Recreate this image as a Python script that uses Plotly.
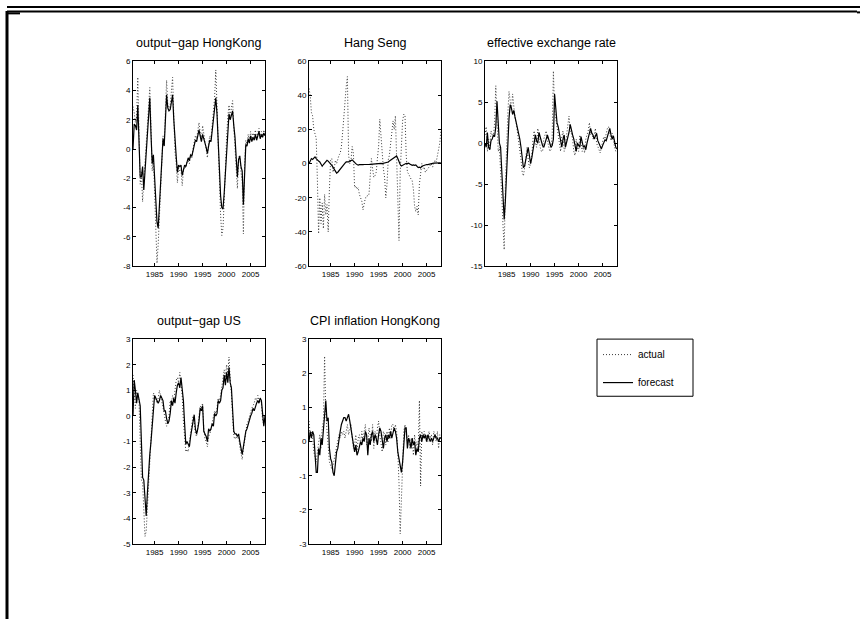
import plotly.graph_objects as go

# ---------------- data (quarterly, 1980Q3 .. 2008Q1) ----------------
START_YEAR = 1980.5
N_OBS = 111
dates = [START_YEAR + 0.25 * k for k in range(N_OBS)]

x_tick_vals = [1985, 1990, 1995, 2000, 2005]
x_tick_text = ["1985", "1990", "1995", "2000", "2005"]

titles = ["output\u2212gap HongKong", "Hang Seng", "effective exchange rate",
          "output\u2212gap US", "CPI inflation HongKong"]

# output-gap HongKong
gap_hk_forecast = [
    0.0, 1.7,
    1.6, 1.3, 3.0, 1.0,   -1.9, -1.9, -1.2, -2.8,   -1.5, -0.3, 1.3, 2.0,
    3.5, 1.0, -1.0, -0.4,  -2.0, -3.8, -5.0, -5.4,  -3.8, -2.0, -0.5, 0.7,
    0.2, 1.8, 3.7, 2.8,    2.6, 2.7, 3.3, 3.7,      2.0, 0.2, -0.5, -1.6,
    -1.1, -1.2, -1.1, -1.8, -1.3, -1.1, -1.2, -0.8, -0.6, -0.8, -0.4, -0.5,
    -0.1, 0.3, 0.6, 0.5,   0.9, 1.3, 0.9, 0.5,      1.0, 0.6, 0.4, 0.1,
    -0.3, 0.2, 0.6, 0.5,   1.2, 1.7, 2.5, 3.5,      2.4, 0.2, -1.8, -3.2,
    -4.0, -4.1, -3.0, -1.5, 0.2, 1.5, 2.4, 2.0,     2.3, 2.6, 1.6, 0.8,
    -0.6, -1.9, -0.7, -0.5, -1.2, -1.5, -3.8, -1.2, 0.3, 0.2, 0.7, 0.4,
    0.9, 0.5, 0.8, 0.6,    1.0, 0.6, 0.9, 1.2,      0.7, 1.0, 0.8, 1.1,
    0.9,
]
gap_hk_actual = [
    2.9, 2.5,
    1.8, 2.2, 4.9, 0.5,    -2.4, -1.6, -3.6, -2.2,  -0.8, 0.8, 1.8, 2.8,
    4.2, 1.5, -1.5, -0.6,  -3.0, -6.0, -7.8, -6.5,  -4.5, -2.0, 0.0, 0.9,
    0.3, 2.5, 4.7, 3.0,    2.8, 3.0, 4.0, 4.9,      2.2, -0.2, -1.0, -2.3,
    -1.3, -1.5, -1.4, -2.5, -1.5, -1.2, -1.3, -0.9, -0.8, -1.0, -0.3, -0.6,
    0.0, 0.5, 0.9, 0.7,    1.2, 1.8, 1.1, 0.6,      1.6, 0.8, 0.5, 0.0,
    -0.6, 0.4, 0.9, 0.7,   1.6, 2.3, 3.5, 5.4,      3.0, -0.5, -2.8, -4.5,
    -5.9, -5.4, -3.5, -1.0, 0.8, 2.2, 3.0, 2.3,     2.8, 3.3, 1.5, 0.2,
    -1.3, -2.7, -0.6, -0.4, -1.6, -2.2, -5.8, -1.0, 0.6, 0.3, 1.0, 0.5,
    1.2, 0.6, 1.1, 0.8,    1.3, 0.7, 1.1, 1.4,      0.8, 1.2, 0.9, 1.3,
    1.0,
]

# Hang Seng
hang_seng_forecast = [
    0.0, 1.5, 3.0, 2.5, 3.5, 4.0, 3.0, 2.0, 1.5, 1.0,
    0.0, -1.5, -0.5, 0.5, 1.5, 2.0, 1.5, 0.8, 0.0, -1.0,
    -2.0, -3.0, -4.5, -5.5, -5.0, -4.0, -3.0, -2.0, -1.5, -0.5,
    0.3, 1.0, 0.8, 1.0, 1.5, 2.0, 2.2, 1.5, 0.5, 0.0,
    -0.5, -0.8, -0.6, -0.7, -0.8, -0.6, -0.5, -0.6, -0.5, -0.4,
    -0.5, -0.4, -0.3, -0.3, -0.3, -0.2, -0.2, 0.0, 0.1, 0.0,
    0.2, 0.0, 0.2, 0.3, 0.5, 0.6, 1.0, 1.5, 2.0, 2.5,
    3.0, 3.5, 4.0, 4.5, 3.0, 1.0, -0.5, -1.4, -1.0, -0.5,
    0.0, 0.2, 0.0, 0.3, -0.2, -0.8, -1.0, -0.7, -1.0, -0.8,
    -1.5, -2.3, -2.0, -2.5, -1.5, -1.2, -1.0, -0.8, -0.5, -0.6,
    -0.3, -0.2, 0.0, 0.2, 0.3, 0.4, 0.5, 0.4, 0.6, 0.5,
    0.4,
]
hang_seng_actual = [
    44, 40, 30, 28, 20, 17, 15, -10, -41, -20,
    -35, -23, -38, -18, -30, -24, -40, -15, 2, 3,
    -5, -3, 2, 0, 3, 5, 6, 10, 18, 28,
    40, 45, 51, 5, 0, 2, 10, 6, -14, -13,
    -15, -14, -18, -20, -22, -27, -22, -20, -20, -18,
    -18, -10, 3, -3, -8, -7, -5, 3, 10, 26,
    15, 2, -3, -8, -20, -12, 2, 5, 10, 18,
    25, 20, 28, 8, -20, -45, -5, 10, 25, 29,
    28, 5, -5, -6, -8, -9, -10, -15, -25, -28,
    -25, -30, -12, -5, 0, -3, -2, -5, -4, -3,
    -2, -1, 0, -2, 0, 2, 1, 5, 8, 12,
    20,
]

# effective exchange rate
eer_forecast = [
    0.0, -0.5, 1.3, -0.5, -0.8, 0.3, 0.5, 1.0, 0.8, 2.0,
    5.1, 2.0, 0.0, -0.5, -3.0, -6.0, -9.3, -7.0, -3.5, 0.5,
    3.0, 4.7, 4.3, 3.5, 4.0, 3.2, 2.5, 2.0, 1.5, 0.5,
    -0.5, -1.5, -3.0, -2.8, -2.0, -1.0, -0.5, -1.5, -2.5, -1.8,
    -1.0, 0.0, 1.0, 0.3, 0.0, 1.3, 0.8, 0.0, -0.3, -0.5,
    0.2, 0.5, 1.0, 0.5, 0.0, -0.5, -0.3, 0.5, 6.0, 3.5,
    2.5, 2.0, 1.0, 0.0, -0.5, 0.5, 1.0, -0.5, 0.0, 0.5,
    1.3, 2.3, 1.5, 1.0, 0.5, -0.5, -1.0, 0.0, -0.3, -0.5,
    0.8, 0.2, -0.5, -0.3, -0.8, 0.0, 0.5, 1.0, 1.8, 1.2,
    1.0, 0.5, 0.8, 1.2, 0.3, 0.0, -0.5, -0.7, -0.3, 0.0,
    0.4, 0.3, 0.8, 1.2, 1.8, 1.0, 0.5, 0.9, 0.3, -0.5,
    -0.7,
]
eer_actual = [
    1.0, 2.0, -1.0, 0.5, -0.8, 1.5, 1.0, 0.8, 2.5, 7.0,
    3.0, -1.0, -0.5, -3.0, -6.5, -10.0, -13.0, -5.0, 0.5, 3.5,
    6.3, 5.0, 4.0, 6.0, 4.5, 3.0, 2.5, 1.5, 0.5, -0.5,
    -2.0, -3.5, -4.0, -3.0, -1.5, -0.5, -2.0, -3.0, -2.5, -1.5,
    0.5, 1.5, 0.0, -0.5, 1.8, 0.5, -0.5, -1.0, -1.0, 0.5,
    1.0, 1.5, 0.3, -0.5, -1.0, -0.8, 1.0, 8.8, 4.0, 3.0,
    2.0, 1.0, -0.5, -1.0, 0.8, 1.5, -1.0, -0.5, 1.0, 2.0,
    3.3, 1.5, 1.2, 0.5, -1.0, -1.5, 0.5, -0.5, -1.0, 1.0,
    0.0, -1.0, -0.5, -1.2, 0.5, 1.0, 1.5, 2.5, 1.0, 1.5,
    0.5, 1.0, 1.8, 0.0, -0.5, -1.0, -1.2, -0.5, 0.2, 0.8,
    0.5, 1.2, 1.8, 2.0, 1.0, 0.3, 1.2, 0.0, -0.5, -1.0,
    -0.8,
]

# output-gap US
gap_us_forecast = [
    0.0, 1.4, 1.0, 0.5, 0.9, 0.6, 0.4, -1.0, -2.4, -2.5,
    -3.2, -3.9, -3.0, -2.0, -1.5, -1.0, -0.3, 0.4, 0.8, 0.7,
    0.6, 0.5, 0.6, 0.8, 0.7, 0.6, 0.2, 0.2, -0.1, -0.3,
    -0.2, 0.1, 0.6, 0.4, 0.7, 0.5, 0.9, 1.2, 1.3, 1.1,
    1.5, 1.0, 0.6, -0.3, -1.1, -1.0, -1.1, -1.2, -0.8, -0.5,
    -0.2, 0.05, -0.5, -0.7, -0.5, -0.2, 0.3, 0.2, 0.4, -0.6,
    -0.7, -0.8, -1.0, -0.5, -0.6, -0.5, -0.3, -0.4, 0.1, 0.0,
    0.1, 0.6, 0.5, 0.6, 1.0, 1.1, 1.6, 1.2, 1.7, 1.3,
    1.9, 1.3, 1.1, 0.3, -0.6, -0.7, -0.7, -0.8, -0.7, -1.0,
    -1.3, -1.5, -1.2, -0.9, -0.6, -0.5, -0.3, -0.2, 0.0, 0.1,
    0.3, 0.2, 0.4, 0.5, 0.6, 0.5, 0.7, 0.6, 0.1, -0.4,
    0.0,
]
gap_us_actual = [
    1.6, 0.8, 0.3, 1.0, 0.8, 0.6, -1.0, -2.5, -2.6, -3.5,
    -4.7, -4.5, -3.5, -2.5, -1.5, -0.5, 0.2, 0.9, 0.8, 0.6,
    0.5, 0.7, 1.0, 0.8, 0.6, 0.3, 0.1, -0.2, -0.4, -0.2,
    0.0, 0.6, 0.5, 0.8, 0.6, 1.0, 1.4, 1.5, 1.3, 1.7,
    1.2, 0.8, -0.2, -1.0, -1.4, -1.3, -1.4, -1.0, -0.7, -0.3,
    0.0, -0.2, -0.7, -0.8, -0.4, 0.0, 0.4, 0.3, 0.5, -0.5,
    -0.9, -1.0, -1.2, -0.8, -0.7, -0.5, -0.3, -0.1, 0.2, 0.1,
    0.3, 0.7, 0.6, 0.8, 1.2, 1.4, 1.8, 1.5, 2.0, 1.6,
    2.3, 1.4, 0.9, 0.0, -0.8, -0.9, -0.8, -0.9, -0.8, -1.2,
    -1.5, -1.7, -1.3, -0.9, -0.5, -0.3, -0.2, 0.0, 0.2, 0.3,
    0.4, 0.5, 0.7, 0.6, 0.8, 0.6, 0.7, 0.5, -0.2, -0.3,
    0.1,
]

# CPI inflation HongKong
cpi_hk_forecast = [
    0.0, 0.3, 0.1, 0.3, 0.2, -0.4, -0.9, -0.9, -0.2, -0.4,
    0.1, -0.1, 0.3, 0.6, 1.2, 0.6, 0.7, -0.2, -0.5, -0.6,
    -0.9, -1.0, -0.7, -0.3, -0.2, 0.1, 0.3, 0.5, 0.6, 0.7,
    0.7, 0.6, 0.7, 0.8, 0.6, 0.4, 0.1, 0.0, -0.3, -0.1,
    -0.4, -0.3, -0.1, 0.0, -0.1, 0.1, 0.0, 0.3, 0.2, -0.4,
    0.1, -0.1, 0.2, 0.3, 0.0, 0.2, 0.1, -0.1, 0.2, 0.4,
    0.3, 0.1, -0.2, 0.1, 0.2, 0.0, 0.2, 0.1, 0.3, 0.1,
    0.3, 0.4, 0.3, 0.1, -0.3, -0.5, -0.7, -0.9, -0.6, 0.1,
    0.4, 0.4, -0.2, 0.1, 0.0, -0.2, 0.1, -0.1, 0.0, -0.4,
    -0.2, -0.3, 0.1, 0.2, 0.0, 0.2, 0.1, 0.2, 0.0, 0.2,
    0.1, 0.0, 0.1, 0.0, 0.1, 0.2, 0.1, 0.1, 0.0, 0.1,
    0.1,
]
cpi_hk_actual = [
    0.6, 0.2, 0.3, 0.1, -0.3, -0.5, -0.6, -0.3, -0.1, 0.2,
    -0.2, 0.4, 0.6, 2.5, 0.8, 0.3, -0.4, -0.6, -0.7, -0.8,
    -0.7, -0.5, -0.3, -0.1, 0.0, 0.2, 0.1, 0.3, 0.2, 0.3,
    0.1, 0.3, 0.5, 0.2, 0.4, 0.5, 0.1, -0.2, -0.1, 0.2,
    -0.3, 0.1, 0.2, -0.1, 0.3, 0.0, 0.3, 0.5, -0.1, 0.0,
    0.4, 0.2, 0.0, 0.5, -0.2, 0.3, 0.0, 0.4, 0.6, 0.2,
    -0.1, -0.3, 0.3, 0.2, -0.1, 0.3, 0.0, 0.4, 0.1, 0.5,
    0.5, 0.3, 0.5, 0.3, -0.3, -1.2, -2.7, -1.8, -0.6, 0.3,
    0.5, 0.3, 0.0, 0.2, -0.2, 0.1, 0.0, -0.4, 0.2, -0.2,
    0.0, -0.3, 1.2, -1.3, 0.3, 0.1, 0.3, 0.1, 0.2, 0.0,
    0.3, 0.1, 0.2, -0.1, 0.3, 0.2, 0.0, 0.3, -0.2, 0.2,
    0.1,
]

y_ranges = [(-8, 6), (-60, 60), (-15, 10), (-5, 3), (-3, 3)]
y_tick_vals = [
    [-8, -6, -4, -2, 0, 2, 4, 6],
    [-60, -40, -20, 0, 20, 40, 60],
    [-15, -10, -5, 0, 5, 10],
    [-5, -4, -3, -2, -1, 0, 1, 2, 3],
    [-3, -2, -1, 0, 1, 2, 3],
]
actual_series = [gap_hk_actual, hang_seng_actual, eer_actual, gap_us_actual, cpi_hk_actual]
forecast_series = [gap_hk_forecast, hang_seng_forecast, eer_forecast, gap_us_forecast, cpi_hk_forecast]
legend_labels = ["actual", "forecast"]

# ---------------- layout geometry (pixels) ----------------
W, H = 860, 624
col_px = [(133, 265), (309, 441), (485, 617)]
row_px = [(58, 266), (340, 548)]
panel_pos = [(0, 0), (0, 1), (0, 2), (1, 0), (1, 1)]
legend_box = (597, 693, 340, 398)

FONT = "Liberation Sans, Arial, Helvetica, sans-serif"

fig = go.Figure()
layout = dict(
    width=W, height=H, margin=dict(l=0, r=0, t=0, b=0),
    paper_bgcolor="white", plot_bgcolor="white",
    font=dict(family=FONT, color="black", size=8),
    showlegend=True, hovermode=False,
    legend=dict(x=(legend_box[0] + 1) / W, y=1 - (legend_box[2] + 1) / H,
                xanchor="left", yanchor="top",
                bgcolor="rgba(0,0,0,0)", borderwidth=0,
                font=dict(size=10, family=FONT), tracegroupgap=9, itemwidth=30),
)
annotations = []
for k, (r, c) in enumerate(panel_pos):
    n = k + 1
    xa = "xaxis" if n == 1 else f"xaxis{n}"
    ya = "yaxis" if n == 1 else f"yaxis{n}"
    xr = "x" if n == 1 else f"x{n}"
    yr = "y" if n == 1 else f"y{n}"
    x0, x1 = col_px[c]
    y0, y1 = row_px[r]
    layout[xa] = dict(domain=[x0 / W, x1 / W], anchor=yr, range=[dates[0], dates[-1]],
                      tickvals=x_tick_vals, ticktext=x_tick_text, ticks="inside", ticklen=3,
                      tickcolor="black", showline=True, linecolor="black", linewidth=1,
                      mirror="ticks", showgrid=False, zeroline=False,
                      tickfont=dict(size=8, family=FONT))
    yv = y_tick_vals[k]
    layout[ya] = dict(domain=[1 - y1 / H, 1 - y0 / H], anchor=xr, range=list(y_ranges[k]),
                      tickvals=yv, ticktext=[str(v) for v in yv], ticks="inside", ticklen=3,
                      tickcolor="black", showline=True, linecolor="black", linewidth=1,
                      mirror="ticks", showgrid=False, zeroline=False,
                      tickfont=dict(size=8, family=FONT))
    fig.add_trace(go.Scatter(x=dates, y=actual_series[k], mode="lines", xaxis=xr, yaxis=yr,
                             name=legend_labels[0], legendgroup="a", showlegend=(k == 0),
                             line=dict(color="#3a3a3a", width=1, dash="1px,2px")))
    fig.add_trace(go.Scatter(x=dates, y=forecast_series[k], mode="lines", xaxis=xr, yaxis=yr,
                             name=legend_labels[1], legendgroup="f", showlegend=(k == 0),
                             line=dict(color="black", width=1.2)))
    annotations.append(dict(text=titles[k], x=(x0 + x1) / 2 / W, y=1 - (y0 - 9) / H,
                            xref="paper", yref="paper", xanchor="center", yanchor="bottom",
                            showarrow=False, font=dict(size=12.5, family=FONT, color="black")))

layout["annotations"] = annotations

def hline(y, xa, xb, w):
    return dict(type="line", xref="paper", yref="paper", x0=xa / W, x1=xb / W,
                y0=1 - y / H, y1=1 - y / H, line=dict(color="black", width=w), layer="above")

def vline(x, ya, yb, w):
    return dict(type="line", xref="paper", yref="paper", x0=x / W, x1=x / W,
                y0=1 - ya / H, y1=1 - yb / H, line=dict(color="black", width=w), layer="above")

lx0, lx1, ly0, ly1 = legend_box
layout["shapes"] = [
    hline(3, 7, 860, 2),
    hline(7.5, 7, 857, 2),
    hline(9.5, 7, 20, 2),
    hline(8.5, 857, 860, 2),
    vline(7, 7, 624, 3),
    dict(type="rect", xref="paper", yref="paper", x0=lx0 / W, x1=lx1 / W,
         y0=1 - ly1 / H, y1=1 - ly0 / H, line=dict(color="black", width=1),
         fillcolor="rgba(0,0,0,0)", layer="below"),
]

fig.update_layout(**layout)
fig.write_html("out.html", config={"displayModeBar": False, "staticPlot": True},
               post_script="document.body.style.margin='0px';document.body.style.overflow='hidden';")
